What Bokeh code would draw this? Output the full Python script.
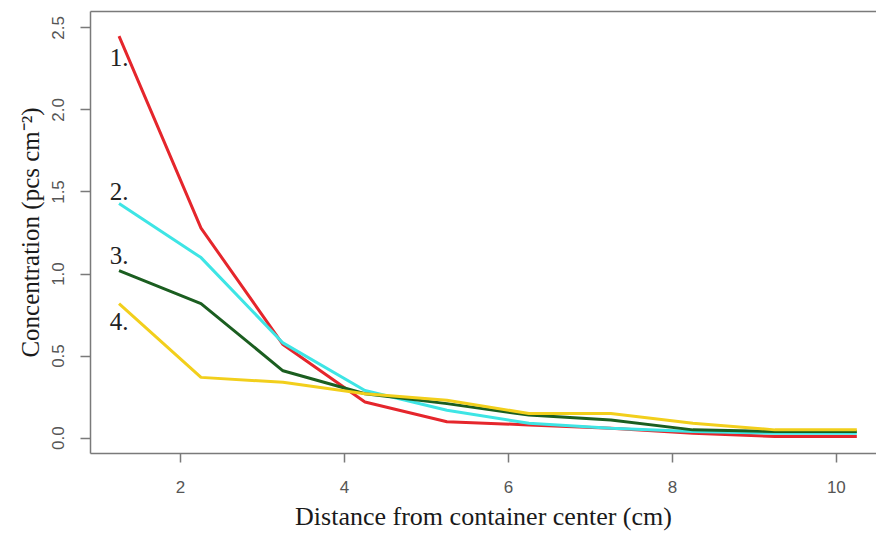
from bokeh.plotting import figure
from bokeh.models import LinearAxis, FixedTicker, Range1d, PrintfTickFormatter
from bokeh.core.properties import value
from bokeh.embed import file_html
from bokeh.resources import INLINE

# distance from container center (cm)
distance = [1.25, 2.25, 3.25, 4.25, 5.25, 6.25, 7.25, 8.25, 9.25, 10.25]
# concentration (pcs cm^-2) for the four series
series_1 = [2.45, 1.28, 0.57, 0.22, 0.10, 0.08, 0.06, 0.03, 0.01, 0.01]
series_2 = [1.43, 1.10, 0.58, 0.29, 0.17, 0.09, 0.06, 0.04, 0.03, 0.03]
series_3 = [1.02, 0.82, 0.41, 0.27, 0.21, 0.14, 0.11, 0.05, 0.04, 0.04]
series_4 = [0.82, 0.37, 0.34, 0.27, 0.23, 0.15, 0.15, 0.09, 0.05, 0.05]
series_labels = ["1.", "2.", "3.", "4."]
label_x = [1.25, 1.25, 1.25, 1.25]
label_y = [2.32, 1.50, 1.11, 0.71]
colors = ["#e5262c", "#3ee5e5", "#1b5e20", "#f2cf1c"]
x_ticks = [2, 4, 6, 8, 10]
y_ticks = [0.0, 0.5, 1.0, 1.5, 2.0, 2.5]

p = figure(width=876, height=535, output_backend="svg", toolbar_location=None,
           x_range=Range1d(0.902, 10.49), y_range=Range1d(-0.094, 2.60),
           min_border_left=90, min_border_right=0, min_border_top=11,
           min_border_bottom=82, x_axis_location=None, y_axis_location=None)
p.background_fill_color = "white"
p.border_fill_color = "white"
p.outline_line_color = None
p.xgrid.visible = False
p.ygrid.visible = False

axis_col = "#7a7a7a"
tick_col = "#555555"

xa = LinearAxis(ticker=FixedTicker(ticks=x_ticks),
                axis_label="Distance from container center (cm)")
ya = LinearAxis(ticker=FixedTicker(ticks=y_ticks),
                formatter=PrintfTickFormatter(format="%.1f"),
                axis_label="Concentration (pcs cm\u207b\u00b2)")
for ax in (xa, ya):
    ax.axis_line_color = axis_col
    ax.axis_line_width = 1.5
    ax.major_tick_line_color = axis_col
    ax.major_tick_line_width = 1.5
    ax.major_tick_out = 9
    ax.major_tick_in = 0
    ax.minor_tick_line_color = None
    ax.major_label_text_font = "Liberation Sans"
    ax.major_label_text_font_size = "17px"
    ax.major_label_text_color = tick_col
    ax.axis_label_text_font = "Liberation Serif"
    ax.axis_label_text_font_style = "normal"
    ax.axis_label_text_color = "#1a1a1a"
xa.axis_label_text_font_size = "26px"
ya.axis_label_text_font_size = "25px"
xa.major_label_standoff = 18
xa.axis_label_standoff = 6
ya.major_tick_out = 10
ya.major_label_standoff = 16
ya.axis_label_standoff = 6
ya.major_label_orientation = "vertical"
p.add_layout(xa, "below")
p.add_layout(ya, "left")

top = LinearAxis(ticker=FixedTicker(ticks=[]))
top.axis_line_color = axis_col
top.axis_line_width = 1.5
top.major_tick_line_color = None
top.minor_tick_line_color = None
top.major_label_text_font_size = "0px"
top.major_label_standoff = 0
p.add_layout(top, "above")

for ys, c in zip([series_1, series_2, series_3, series_4], colors):
    p.line(distance, ys, line_color=c, line_width=3)

p.text(x=label_x, y=label_y, text=series_labels, text_font=value("Liberation Serif"),
       text_font_size="25px", text_color="#222222", text_align="center",
       text_baseline="middle")

open("out.html", "w").write(file_html(p, INLINE))
